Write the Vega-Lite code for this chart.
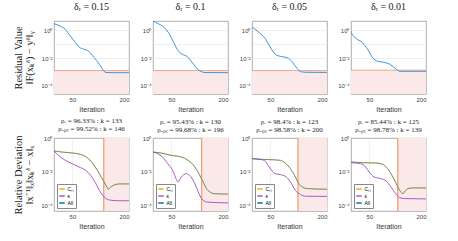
{
"$schema": "https://vega.github.io/schema/vega-lite/v6.json",
"padding": {"left": 13, "top": 1, "right": 2, "bottom": 2},
"background": "white",
"spacing": 4,
"datasets": {
"meta": [{"p":1,"thr":0.00126,"kr":133},{"p":2,"thr":0.00126,"kr":130},{"p":3,"thr":0.00126,"kr":123},{"p":4,"thr":0.00135,"kr":125}],
"res": [
{"p":1,"i":1,"v":3.02},{"p":1,"i":17,"v":2.04},{"p":1,"i":31,"v":1.17},{"p":1,"i":44,"v":0.398},{"p":1,"i":58,"v":0.132},{"p":1,"i":67,"v":0.0646},{"p":1,"i":80,"v":0.0437},{"p":1,"i":94,"v":0.0302},{"p":1,"i":107,"v":0.0112},{"p":1,"i":121,"v":0.00372},{"p":1,"i":134,"v":0.00112},{"p":1,"i":139,"v":0.000912},{"p":1,"i":160,"v":0.000891},{"p":1,"i":200,"v":0.000891},
{"p":2,"i":1,"v":4.47},{"p":2,"i":15,"v":3.02},{"p":2,"i":29,"v":1.74},{"p":2,"i":42,"v":0.692},{"p":2,"i":56,"v":0.132},{"p":2,"i":69,"v":0.0302},{"p":2,"i":78,"v":0.0195},{"p":2,"i":92,"v":0.0126},{"p":2,"i":105,"v":0.0049},{"p":2,"i":119,"v":0.00162},{"p":2,"i":128,"v":0.00112},{"p":2,"i":137,"v":0.000912},{"p":2,"i":200,"v":0.000891},
{"p":3,"i":1,"v":1.74},{"p":3,"i":18,"v":0.759},{"p":3,"i":36,"v":0.251},{"p":3,"i":49,"v":0.0631},{"p":3,"i":63,"v":0.0186},{"p":3,"i":76,"v":0.0135},{"p":3,"i":94,"v":0.0107},{"p":3,"i":108,"v":0.00525},{"p":3,"i":121,"v":0.00174},{"p":3,"i":130,"v":0.00105},{"p":3,"i":144,"v":0.000955},{"p":3,"i":200,"v":0.000933},
{"p":4,"i":1,"v":0.89},{"p":4,"i":3,"v":0.575},{"p":4,"i":14,"v":0.269},{"p":4,"i":31,"v":0.132},{"p":4,"i":45,"v":0.0437},{"p":4,"i":58,"v":0.0112},{"p":4,"i":72,"v":0.00575},{"p":4,"i":90,"v":0.0049},{"p":4,"i":103,"v":0.00372},{"p":4,"i":117,"v":0.00195},{"p":4,"i":126,"v":0.00126},{"p":4,"i":131,"v":0.00112},{"p":4,"i":200,"v":0.00112}
],
"dev": [
{"p":1,"s":"Cₛₜ","i":1,"v":0.182},{"p":1,"s":"Cₛₜ","i":22,"v":0.158},{"p":1,"s":"Cₛₜ","i":49,"v":0.138},{"p":1,"s":"Cₛₜ","i":71,"v":0.115},{"p":1,"s":"Cₛₜ","i":89,"v":0.0724},{"p":1,"s":"Cₛₜ","i":103,"v":0.0347},{"p":1,"s":"Cₛₜ","i":116,"v":0.0126},{"p":1,"s":"Cₛₜ","i":125,"v":0.0055},{"p":1,"s":"Cₛₜ","i":134,"v":0.00251},{"p":1,"s":"Cₛₜ","i":141,"v":0.00126},{"p":1,"s":"Cₛₜ","i":146,"v":0.000933},{"p":1,"s":"Cₛₜ","i":152,"v":0.00126},{"p":1,"s":"Cₛₜ","i":161,"v":0.00166},{"p":1,"s":"Cₛₜ","i":175,"v":0.00191},{"p":1,"s":"Cₛₜ","i":200,"v":0.00191},
{"p":2,"s":"Cₛₜ","i":1,"v":0.158},{"p":2,"s":"Cₛₜ","i":22,"v":0.138},{"p":2,"s":"Cₛₜ","i":49,"v":0.1},{"p":2,"s":"Cₛₜ","i":76,"v":0.0794},{"p":2,"s":"Cₛₜ","i":94,"v":0.0501},{"p":2,"s":"Cₛₜ","i":112,"v":0.02},{"p":2,"s":"Cₛₜ","i":125,"v":0.00631},{"p":2,"s":"Cₛₜ","i":134,"v":0.00251},{"p":2,"s":"Cₛₜ","i":143,"v":0.001},{"p":2,"s":"Cₛₜ","i":152,"v":0.000631},{"p":2,"s":"Cₛₜ","i":161,"v":0.000501},{"p":2,"s":"Cₛₜ","i":180,"v":0.000479},{"p":2,"s":"Cₛₜ","i":200,"v":0.000468},
{"p":3,"s":"Cₛₜ","i":1,"v":0.0631},{"p":3,"s":"Cₛₜ","i":22,"v":0.0575},{"p":3,"s":"Cₛₜ","i":49,"v":0.055},{"p":3,"s":"Cₛₜ","i":76,"v":0.0501},{"p":3,"s":"Cₛₜ","i":89,"v":0.0347},{"p":3,"s":"Cₛₜ","i":103,"v":0.0158},{"p":3,"s":"Cₛₜ","i":116,"v":0.00501},{"p":3,"s":"Cₛₜ","i":125,"v":0.002},{"p":3,"s":"Cₛₜ","i":134,"v":0.00126},{"p":3,"s":"Cₛₜ","i":148,"v":0.001},{"p":3,"s":"Cₛₜ","i":200,"v":0.000912},
{"p":4,"s":"Cₛₜ","i":1,"v":0.0398},{"p":4,"s":"Cₛₜ","i":31,"v":0.0363},{"p":4,"s":"Cₛₜ","i":67,"v":0.0347},{"p":4,"s":"Cₛₜ","i":85,"v":0.0288},{"p":4,"s":"Cₛₜ","i":98,"v":0.0158},{"p":4,"s":"Cₛₜ","i":112,"v":0.00501},{"p":4,"s":"Cₛₜ","i":121,"v":0.002},{"p":4,"s":"Cₛₜ","i":130,"v":0.000794},{"p":4,"s":"Cₛₜ","i":139,"v":0.000501},{"p":4,"s":"Cₛₜ","i":145,"v":0.000724},{"p":4,"s":"Cₛₜ","i":152,"v":0.001},{"p":4,"s":"Cₛₜ","i":166,"v":0.0011},{"p":4,"s":"Cₛₜ","i":200,"v":0.0011},
{"p":1,"s":"κ","i":1,"v":0.182},{"p":1,"s":"κ","i":13,"v":0.1},{"p":1,"s":"κ","i":31,"v":0.0501},{"p":1,"s":"κ","i":49,"v":0.0316},{"p":1,"s":"κ","i":67,"v":0.02},{"p":1,"s":"κ","i":85,"v":0.0126},{"p":1,"s":"κ","i":98,"v":0.00631},{"p":1,"s":"κ","i":112,"v":0.002},{"p":1,"s":"κ","i":121,"v":0.000794},{"p":1,"s":"κ","i":130,"v":0.000398},{"p":1,"s":"κ","i":139,"v":0.000251},{"p":1,"s":"κ","i":152,"v":0.0002},{"p":1,"s":"κ","i":175,"v":0.000186},{"p":1,"s":"κ","i":200,"v":0.000186},
{"p":2,"s":"κ","i":1,"v":0.158},{"p":2,"s":"κ","i":13,"v":0.126},{"p":2,"s":"κ","i":26,"v":0.0794},{"p":2,"s":"κ","i":40,"v":0.0316},{"p":2,"s":"κ","i":53,"v":0.0126},{"p":2,"s":"κ","i":62,"v":0.00398},{"p":2,"s":"κ","i":67,"v":0.00251},{"p":2,"s":"κ","i":76,"v":0.00501},{"p":2,"s":"κ","i":89,"v":0.00794},{"p":2,"s":"κ","i":98,"v":0.00631},{"p":2,"s":"κ","i":112,"v":0.002},{"p":2,"s":"κ","i":121,"v":0.000631},{"p":2,"s":"κ","i":130,"v":0.000251},{"p":2,"s":"κ","i":143,"v":0.000158},{"p":2,"s":"κ","i":166,"v":0.000145},{"p":2,"s":"κ","i":200,"v":0.000138},
{"p":3,"s":"κ","i":1,"v":0.0631},{"p":3,"s":"κ","i":22,"v":0.0575},{"p":3,"s":"κ","i":35,"v":0.0457},{"p":3,"s":"κ","i":44,"v":0.0251},{"p":3,"s":"κ","i":53,"v":0.0126},{"p":3,"s":"κ","i":62,"v":0.00794},{"p":3,"s":"κ","i":76,"v":0.00692},{"p":3,"s":"κ","i":89,"v":0.0055},{"p":3,"s":"κ","i":103,"v":0.00251},{"p":3,"s":"κ","i":116,"v":0.000794},{"p":3,"s":"κ","i":130,"v":0.000437},{"p":3,"s":"κ","i":143,"v":0.000347},{"p":3,"s":"κ","i":200,"v":0.000339},
{"p":4,"s":"κ","i":1,"v":0.0363},{"p":4,"s":"κ","i":26,"v":0.0316},{"p":4,"s":"κ","i":40,"v":0.02},{"p":4,"s":"κ","i":49,"v":0.01},{"p":4,"s":"κ","i":62,"v":0.00501},{"p":4,"s":"κ","i":80,"v":0.00398},{"p":4,"s":"κ","i":94,"v":0.00288},{"p":4,"s":"κ","i":107,"v":0.00126},{"p":4,"s":"κ","i":121,"v":0.000457},{"p":4,"s":"κ","i":130,"v":0.000288},{"p":4,"s":"κ","i":143,"v":0.000251},{"p":4,"s":"κ","i":200,"v":0.00024},
{"p":1,"s":"All","i":1,"v":0.182},{"p":1,"s":"All","i":22,"v":0.158},{"p":1,"s":"All","i":49,"v":0.138},{"p":1,"s":"All","i":71,"v":0.115},{"p":1,"s":"All","i":89,"v":0.0724},{"p":1,"s":"All","i":103,"v":0.0347},{"p":1,"s":"All","i":116,"v":0.0126},{"p":1,"s":"All","i":125,"v":0.0055},{"p":1,"s":"All","i":134,"v":0.00251},{"p":1,"s":"All","i":141,"v":0.00126},{"p":1,"s":"All","i":146,"v":0.000933},{"p":1,"s":"All","i":152,"v":0.00126},{"p":1,"s":"All","i":161,"v":0.00166},{"p":1,"s":"All","i":175,"v":0.00191},{"p":1,"s":"All","i":200,"v":0.00191},
{"p":2,"s":"All","i":1,"v":0.158},{"p":2,"s":"All","i":22,"v":0.138},{"p":2,"s":"All","i":49,"v":0.1},{"p":2,"s":"All","i":76,"v":0.0794},{"p":2,"s":"All","i":94,"v":0.0501},{"p":2,"s":"All","i":112,"v":0.02},{"p":2,"s":"All","i":125,"v":0.00631},{"p":2,"s":"All","i":134,"v":0.00251},{"p":2,"s":"All","i":143,"v":0.001},{"p":2,"s":"All","i":152,"v":0.000631},{"p":2,"s":"All","i":161,"v":0.000501},{"p":2,"s":"All","i":180,"v":0.000479},{"p":2,"s":"All","i":200,"v":0.000468},
{"p":3,"s":"All","i":1,"v":0.0631},{"p":3,"s":"All","i":22,"v":0.0575},{"p":3,"s":"All","i":49,"v":0.055},{"p":3,"s":"All","i":76,"v":0.0501},{"p":3,"s":"All","i":89,"v":0.0347},{"p":3,"s":"All","i":103,"v":0.0158},{"p":3,"s":"All","i":116,"v":0.00501},{"p":3,"s":"All","i":125,"v":0.002},{"p":3,"s":"All","i":134,"v":0.00126},{"p":3,"s":"All","i":148,"v":0.001},{"p":3,"s":"All","i":200,"v":0.000912},
{"p":4,"s":"All","i":1,"v":0.0398},{"p":4,"s":"All","i":31,"v":0.0363},{"p":4,"s":"All","i":67,"v":0.0347},{"p":4,"s":"All","i":85,"v":0.0288},{"p":4,"s":"All","i":98,"v":0.0158},{"p":4,"s":"All","i":112,"v":0.00501},{"p":4,"s":"All","i":121,"v":0.002},{"p":4,"s":"All","i":130,"v":0.000794},{"p":4,"s":"All","i":139,"v":0.000501},{"p":4,"s":"All","i":145,"v":0.000724},{"p":4,"s":"All","i":152,"v":0.001},{"p":4,"s":"All","i":166,"v":0.0011},{"p":4,"s":"All","i":200,"v":0.0011}
]
},
"vconcat": [
{"hconcat": [
{"width":75,"height":73,"title":{"text":"δᵣ =  0.15"},
 "layer":[
 {"data":{"name":"meta"},"transform":[{"filter":"datum.p==1"}],"mark":{"type":"rect","fill":"#fbe9e9","clip":true},"encoding":{"x":{"datum":1,"type":"quantitative"},"x2":{"datum":200},"y":{"field":"thr","type":"quantitative"},"y2":{"datum":2.6e-5}}},
 {"data":{"name":"meta"},"transform":[{"filter":"datum.p==1"}],"mark":{"type":"rule","color":"#eaa595","strokeWidth":1},"encoding":{"y":{"field":"thr","type":"quantitative"}}},
 {"data":{"name":"res"},"transform":[{"filter":"datum.p==1"}],"mark":{"type":"line","color":"#3d95d8","strokeWidth":1,"interpolate":"monotone","clip":true},
  "encoding":{"x":{"field":"i","type":"quantitative","scale":{"domain":[1,200],"nice":false,"zero":false},"axis":{"values":[50,100,150,200],"title":"Iteration"}},
  "y":{"field":"v","type":"quantitative","scale":{"type":"log","domain":[2.6e-5,4.7],"nice":false},"axis":{"values":[0.0001,0.001,0.01,0.1,1],"labelExpr":"datum.value==1?'10⁰':datum.value==0.01?'10⁻²':datum.value==0.0001?'10⁻⁴':''","title":["Residual Value","‖F(xₖᵟ) − yᵟ‖ᵧ"],"titleFont":"Liberation Serif","titleFontSize":10.5,"titleColor":"#222","titleLineHeight":11,"titlePadding":6}}}}
 ]},
{"width":75,"height":73,"title":{"text":"δᵣ =  0.1"},
 "layer":[
 {"data":{"name":"meta"},"transform":[{"filter":"datum.p==2"}],"mark":{"type":"rect","fill":"#fbe9e9","clip":true},"encoding":{"x":{"datum":1,"type":"quantitative"},"x2":{"datum":200},"y":{"field":"thr","type":"quantitative"},"y2":{"datum":2.6e-5}}},
 {"data":{"name":"meta"},"transform":[{"filter":"datum.p==2"}],"mark":{"type":"rule","color":"#eaa595","strokeWidth":1},"encoding":{"y":{"field":"thr","type":"quantitative"}}},
 {"data":{"name":"res"},"transform":[{"filter":"datum.p==2"}],"mark":{"type":"line","color":"#3d95d8","strokeWidth":1,"interpolate":"monotone","clip":true},
  "encoding":{"x":{"field":"i","type":"quantitative","scale":{"domain":[1,200],"nice":false,"zero":false},"axis":{"values":[50,100,150,200],"title":"Iteration"}},
  "y":{"field":"v","type":"quantitative","scale":{"type":"log","domain":[2.6e-5,4.7],"nice":false},"axis":{"values":[0.0001,0.001,0.01,0.1,1],"labelExpr":"datum.value==1?'10⁰':datum.value==0.01?'10⁻²':datum.value==0.0001?'10⁻⁴':''","title":null}}}}
 ]},
{"width":75,"height":73,"title":{"text":"δᵣ =  0.05"},
 "layer":[
 {"data":{"name":"meta"},"transform":[{"filter":"datum.p==3"}],"mark":{"type":"rect","fill":"#fbe9e9","clip":true},"encoding":{"x":{"datum":1,"type":"quantitative"},"x2":{"datum":200},"y":{"field":"thr","type":"quantitative"},"y2":{"datum":2.6e-5}}},
 {"data":{"name":"meta"},"transform":[{"filter":"datum.p==3"}],"mark":{"type":"rule","color":"#eaa595","strokeWidth":1},"encoding":{"y":{"field":"thr","type":"quantitative"}}},
 {"data":{"name":"res"},"transform":[{"filter":"datum.p==3"}],"mark":{"type":"line","color":"#3d95d8","strokeWidth":1,"interpolate":"monotone","clip":true},
  "encoding":{"x":{"field":"i","type":"quantitative","scale":{"domain":[1,200],"nice":false,"zero":false},"axis":{"values":[50,100,150,200],"title":"Iteration"}},
  "y":{"field":"v","type":"quantitative","scale":{"type":"log","domain":[2.6e-5,4.7],"nice":false},"axis":{"values":[0.0001,0.001,0.01,0.1,1],"labelExpr":"datum.value==1?'10⁰':datum.value==0.01?'10⁻²':datum.value==0.0001?'10⁻⁴':''","title":null}}}}
 ]},
{"width":75,"height":73,"title":{"text":"δᵣ =  0.01"},
 "layer":[
 {"data":{"name":"meta"},"transform":[{"filter":"datum.p==4"}],"mark":{"type":"rect","fill":"#fbe9e9","clip":true},"encoding":{"x":{"datum":1,"type":"quantitative"},"x2":{"datum":200},"y":{"field":"thr","type":"quantitative"},"y2":{"datum":2.6e-5}}},
 {"data":{"name":"meta"},"transform":[{"filter":"datum.p==4"}],"mark":{"type":"rule","color":"#eaa595","strokeWidth":1},"encoding":{"y":{"field":"thr","type":"quantitative"}}},
 {"data":{"name":"res"},"transform":[{"filter":"datum.p==4"}],"mark":{"type":"line","color":"#3d95d8","strokeWidth":1,"interpolate":"monotone","clip":true},
  "encoding":{"x":{"field":"i","type":"quantitative","scale":{"domain":[1,200],"nice":false,"zero":false},"axis":{"values":[50,100,150,200],"title":"Iteration"}},
  "y":{"field":"v","type":"quantitative","scale":{"type":"log","domain":[2.6e-5,4.7],"nice":false},"axis":{"values":[0.0001,0.001,0.01,0.1,1],"labelExpr":"datum.value==1?'10⁰':datum.value==0.01?'10⁻²':datum.value==0.0001?'10⁻⁴':''","title":null}}}}
 ]}
], "spacing": 24, "bounds": "flush"},
{"hconcat": [
{"width":75,"height":73,"title":{"text":["ρᵣ =  96.33%  :  k =  133","ρₒₚₜ =  99.52%  :  k =  146"],"fontSize":7,"lineHeight":7.5,"offset":3},
 "layer":[
 {"data":{"name":"meta"},"transform":[{"filter":"datum.p==1"}],"mark":{"type":"rect","fill":"#fbe9e9","clip":true},"encoding":{"x":{"field":"kr","type":"quantitative"},"x2":{"datum":200},"y":{"datum":1.1,"type":"quantitative"},"y2":{"datum":4.5e-5}}},
 {"data":{"name":"meta"},"transform":[{"filter":"datum.p==1"}],"mark":{"type":"rule","color":"#f2a070","strokeWidth":1.3},"encoding":{"x":{"field":"kr","type":"quantitative"}}},
 {"data":{"name":"dev"},"transform":[{"filter":"datum.p==1"}],"mark":{"type":"line","strokeWidth":1,"interpolate":"monotone","clip":true},
  "encoding":{"x":{"field":"i","type":"quantitative","scale":{"domain":[1,200],"nice":false,"zero":false},"axis":{"values":[50,100,150,200],"title":"Iteration"}},
  "y":{"field":"v","type":"quantitative","scale":{"type":"log","domain":[4.5e-5,1.1],"nice":false},"axis":{"values":[0.0001,0.001,0.01,0.1,1],"labelExpr":"datum.value==1?'10⁰':datum.value==0.01?'10⁻²':datum.value==0.0001?'10⁻⁴':''","title":["Relative Deviation","‖x⁻¹‖ₓ‖xₖᵟ − x‖ₓ"],"titleFont":"Liberation Serif","titleFontSize":10.5,"titleColor":"#222","titleLineHeight":11,"titlePadding":6}},
  "color":{"field":"s","type":"nominal","sort":null,"scale":{"domain":["Cₛₜ","κ","All"],"range":["#EDB120","#A85CC4","#0072BD"]},"legend":{"title":null}},
  "strokeOpacity":{"condition":{"test":"datum.s==='All'","value":0.5},"value":1}}}
 ]},
{"width":75,"height":73,"title":{"text":["ρᵣ =  95.43%  :  k =  130","ρₒₚₜ =  99.68%  :  k =  196"],"fontSize":7,"lineHeight":7.5,"offset":3},
 "layer":[
 {"data":{"name":"meta"},"transform":[{"filter":"datum.p==2"}],"mark":{"type":"rect","fill":"#fbe9e9","clip":true},"encoding":{"x":{"field":"kr","type":"quantitative"},"x2":{"datum":200},"y":{"datum":1.1,"type":"quantitative"},"y2":{"datum":4.5e-5}}},
 {"data":{"name":"meta"},"transform":[{"filter":"datum.p==2"}],"mark":{"type":"rule","color":"#f2a070","strokeWidth":1.3},"encoding":{"x":{"field":"kr","type":"quantitative"}}},
 {"data":{"name":"dev"},"transform":[{"filter":"datum.p==2"}],"mark":{"type":"line","strokeWidth":1,"interpolate":"monotone","clip":true},
  "encoding":{"x":{"field":"i","type":"quantitative","scale":{"domain":[1,200],"nice":false,"zero":false},"axis":{"values":[50,100,150,200],"title":"Iteration"}},
  "y":{"field":"v","type":"quantitative","scale":{"type":"log","domain":[4.5e-5,1.1],"nice":false},"axis":{"values":[0.0001,0.001,0.01,0.1,1],"labelExpr":"datum.value==1?'10⁰':datum.value==0.01?'10⁻²':datum.value==0.0001?'10⁻⁴':''","title":null}},
  "color":{"field":"s","type":"nominal","sort":null,"scale":{"domain":["Cₛₜ","κ","All"],"range":["#EDB120","#A85CC4","#0072BD"]},"legend":{"title":null}},
  "strokeOpacity":{"condition":{"test":"datum.s==='All'","value":0.5},"value":1}}}
 ]},
{"width":75,"height":73,"title":{"text":["ρᵣ =  98.4%  :  k =  123","ρₒₚₜ =  98.58%  :  k =  200"],"fontSize":7,"lineHeight":7.5,"offset":3},
 "layer":[
 {"data":{"name":"meta"},"transform":[{"filter":"datum.p==3"}],"mark":{"type":"rect","fill":"#fbe9e9","clip":true},"encoding":{"x":{"field":"kr","type":"quantitative"},"x2":{"datum":200},"y":{"datum":1.1,"type":"quantitative"},"y2":{"datum":4.5e-5}}},
 {"data":{"name":"meta"},"transform":[{"filter":"datum.p==3"}],"mark":{"type":"rule","color":"#f2a070","strokeWidth":1.3},"encoding":{"x":{"field":"kr","type":"quantitative"}}},
 {"data":{"name":"dev"},"transform":[{"filter":"datum.p==3"}],"mark":{"type":"line","strokeWidth":1,"interpolate":"monotone","clip":true},
  "encoding":{"x":{"field":"i","type":"quantitative","scale":{"domain":[1,200],"nice":false,"zero":false},"axis":{"values":[50,100,150,200],"title":"Iteration"}},
  "y":{"field":"v","type":"quantitative","scale":{"type":"log","domain":[4.5e-5,1.1],"nice":false},"axis":{"values":[0.0001,0.001,0.01,0.1,1],"labelExpr":"datum.value==1?'10⁰':datum.value==0.01?'10⁻²':datum.value==0.0001?'10⁻⁴':''","title":null}},
  "color":{"field":"s","type":"nominal","sort":null,"scale":{"domain":["Cₛₜ","κ","All"],"range":["#EDB120","#A85CC4","#0072BD"]},"legend":{"title":null}},
  "strokeOpacity":{"condition":{"test":"datum.s==='All'","value":0.5},"value":1}}}
 ]},
{"width":75,"height":73,"title":{"text":["ρᵣ =  85.44%  :  k =  125","ρₒₚₜ =  98.78%  :  k =  139"],"fontSize":7,"lineHeight":7.5,"offset":3},
 "layer":[
 {"data":{"name":"meta"},"transform":[{"filter":"datum.p==4"}],"mark":{"type":"rect","fill":"#fbe9e9","clip":true},"encoding":{"x":{"field":"kr","type":"quantitative"},"x2":{"datum":200},"y":{"datum":1.1,"type":"quantitative"},"y2":{"datum":4.5e-5}}},
 {"data":{"name":"meta"},"transform":[{"filter":"datum.p==4"}],"mark":{"type":"rule","color":"#f2a070","strokeWidth":1.3},"encoding":{"x":{"field":"kr","type":"quantitative"}}},
 {"data":{"name":"dev"},"transform":[{"filter":"datum.p==4"}],"mark":{"type":"line","strokeWidth":1,"interpolate":"monotone","clip":true},
  "encoding":{"x":{"field":"i","type":"quantitative","scale":{"domain":[1,200],"nice":false,"zero":false},"axis":{"values":[50,100,150,200],"title":"Iteration"}},
  "y":{"field":"v","type":"quantitative","scale":{"type":"log","domain":[4.5e-5,1.1],"nice":false},"axis":{"values":[0.0001,0.001,0.01,0.1,1],"labelExpr":"datum.value==1?'10⁰':datum.value==0.01?'10⁻²':datum.value==0.0001?'10⁻⁴':''","title":null}},
  "color":{"field":"s","type":"nominal","sort":null,"scale":{"domain":["Cₛₜ","κ","All"],"range":["#EDB120","#A85CC4","#0072BD"]},"legend":{"title":null}},
  "strokeOpacity":{"condition":{"test":"datum.s==='All'","value":0.5},"value":1}}}
 ]}
], "spacing": 24, "bounds": "flush",
 "resolve": {"scale": {"color": "independent"}, "legend": {"color": "independent"}}}
],
"config": {
 "view": {"stroke": "#999999", "strokeWidth": 0.8},
 "axis": {"labelFont": "Liberation Sans", "labelFontSize": 6, "labelColor": "#444444", "titleFont": "Liberation Sans", "titleFontSize": 7, "titleFontWeight": "normal", "titleColor": "#333333", "gridColor": "#e6e6e6", "gridWidth": 0.6, "domain": false, "ticks": false, "labelPadding": 2, "titlePadding": 3},
 "title": {"font": "Liberation Serif", "fontSize": 10, "fontWeight": "normal", "color": "#222222", "offset": 9},
 "legend": {"orient": "bottom-left", "fillColor": "white", "strokeColor": "#888888", "padding": 1.5, "offset": 3, "labelFont": "Liberation Sans", "labelFontSize": 5, "symbolType": "stroke", "symbolSize": 30, "symbolStrokeWidth": 1.5, "rowPadding": 0, "labelOffset": 2, "cornerRadius": 0}
}
}
